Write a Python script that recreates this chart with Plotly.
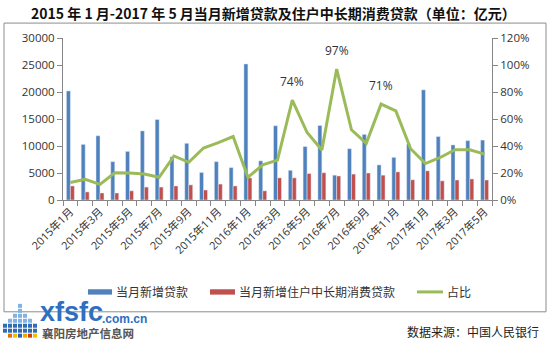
import plotly.graph_objects as go

months = ["2015年1月", "2015年2月", "2015年3月", "2015年4月", "2015年5月", "2015年6月",
          "2015年7月", "2015年8月", "2015年9月", "2015年10月", "2015年11月", "2015年12月",
          "2016年1月", "2016年2月", "2016年3月", "2016年4月", "2016年5月", "2016年6月",
          "2016年7月", "2016年8月", "2016年9月", "2016年10月", "2016年11月", "2016年12月",
          "2017年1月", "2017年2月", "2017年3月", "2017年4月", "2017年5月"]

new_loans = [20200, 10300, 11900, 7100, 9000, 12800, 14900, 8000, 10500, 5100, 7100, 6000,
             25200, 7250, 13750, 5500, 9900, 13800, 4600, 9500, 12150, 6500, 7900, 10400,
             20400, 11750, 10200, 11000, 11100]

household_loans = [2600, 1500, 1300, 1300, 1700, 2400, 2400, 2600, 2800, 1850, 2950, 2600,
                   4100, 1700, 4100, 4100, 4900, 5050, 4450, 4800, 5000, 4600, 5200, 3750,
                   5400, 3550, 3700, 3900, 3700]

ratio = [0.13, 0.153, 0.116, 0.202, 0.20, 0.193, 0.168, 0.326, 0.279, 0.385, 0.425, 0.47,
         0.168, 0.26, 0.295, 0.74, 0.50, 0.37, 0.97, 0.52, 0.42, 0.71, 0.66, 0.38,
         0.27, 0.315, 0.372, 0.372, 0.34]

labeled_idx = [15, 18, 21]

tick_text = [m if i % 2 == 0 else "" for i, m in enumerate(months)]

# plot-area geometry (pixels)
L, R, T, B = 63, 492, 37.5, 200.5
W, H = 550, 341


def px(x):
    return (x - L) / (R - L)


def py(y):
    return (B - y) / (B - T)


FONT = "Open Sans, Noto Sans CJK SC, sans-serif"
CJK = "Noto Sans CJK SC, sans-serif"
BLUE, RED, GREEN = "#4F81BD", "#C0504D", "#9BBB59"
AX = "#868686"

fig = go.Figure()
fig.add_trace(go.Bar(x=months, y=new_loans, name="当月新增贷款", marker_color=BLUE,
                     showlegend=False))
fig.add_trace(go.Bar(x=months, y=household_loans, name="当月新增住户中长期消费贷款",
                     marker_color=RED, showlegend=False))
fig.add_trace(go.Scatter(x=months, y=ratio, name="占比", mode="lines", yaxis="y2",
                         line=dict(color=GREEN, width=3), showlegend=False))

annotations = []
for i in labeled_idx:
    annotations.append(dict(x=months[i], y=ratio[i], xref="x", yref="y2",
                            text=f"{round(ratio[i] * 100)}%", showarrow=False,
                            yshift=19, font=dict(family=FONT, size=12, color="#333")))

# title
annotations.append(dict(x=px(273), y=py(12), xref="paper", yref="paper",
                        text="<b>2015 年 1 月-2017 年 5 月当月新增贷款及住户中长期消费贷款（单位：亿元）</b>",
                        showarrow=False, xanchor="center", yanchor="middle",
                        font=dict(family=CJK, size=14, color="#111")))

shapes = []
# chart border
shapes.append(dict(type="rect", xref="paper", yref="paper", x0=px(4), x1=px(546),
                   y0=py(313), y1=py(22.5), line=dict(color="#8c8c8c", width=1)))

# legend
leg_y = 293
legend_items = [("当月新增贷款", BLUE, 88, 112, "bar"),
                ("当月新增住户中长期消费贷款", RED, 210, 235, "bar"),
                ("占比", GREEN, 417, 443, "line")]
for text, col, x0, x1, kind in legend_items:
    if kind == "bar":
        shapes.append(dict(type="rect", xref="paper", yref="paper", x0=px(x0), x1=px(x1),
                           y0=py(leg_y + 2.7), y1=py(leg_y - 2.7), fillcolor=col,
                           line=dict(width=0)))
    else:
        shapes.append(dict(type="line", xref="paper", yref="paper", x0=px(x0), x1=px(x1),
                           y0=py(leg_y), y1=py(leg_y), line=dict(color=col, width=3)))
    annotations.append(dict(x=px(x1 + 2), y=py(leg_y), xref="paper", yref="paper", text=text,
                            showarrow=False, xanchor="left", yanchor="middle",
                            font=dict(family=CJK, size=12, color="#333")))

# logo (decorative)
logo_cols = [[1, 2], [0, 1, 2, 3], [0, 1, 2, 3, 4], [0, 1, 2, 3, 4, 5, 6], [0, 1, 2, 3, 4],
             [0, 1, 2, 3], [0, 1, 2]]
for c, rows in enumerate(logo_cols):
    for r in rows:
        x0 = 3 + c * 5
        y1 = 339 - r * 5
        if r == 0:
            col = ["#f0a800", "#e07000", "#f0c000", "#2a62b0", "#f0a800", "#d04000", "#f0c000"][c]
        elif r <= 2:
            col = "#2e6db4"
        else:
            col = "#7fb2e5"
        shapes.append(dict(type="rect", xref="paper", yref="paper", x0=px(x0), x1=px(x0 + 4),
                           y0=py(y1), y1=py(y1 - 4), fillcolor=col, line=dict(width=0)))
annotations.append(dict(x=px(38), y=py(313), xref="paper", yref="paper", text="<b>xfsfc</b>",
                        showarrow=False, xanchor="left", yanchor="middle",
                        font=dict(family="Liberation Sans", size=27, color="#2f6fc0")))
annotations.append(dict(x=px(100), y=py(320), xref="paper", yref="paper", text="<b>.com.cn</b>",
                        showarrow=False, xanchor="left", yanchor="middle",
                        font=dict(family="Liberation Sans", size=12, color="#2f6fc0")))
annotations.append(dict(x=px(40), y=py(334), xref="paper", yref="paper", text="<b>襄阳房地产信息网</b>",
                        showarrow=False, xanchor="left", yanchor="middle",
                        font=dict(family=CJK, size=11.5, color="#555")))
annotations.append(dict(x=px(541), y=py(333), xref="paper", yref="paper",
                        text="数据来源：中国人民银行", showarrow=False, xanchor="right",
                        yanchor="middle", font=dict(family=CJK, size=12, color="#222")))

fig.update_layout(
    width=W, height=H,
    margin=dict(l=L, r=W - R, t=T, b=H - B, pad=0),
    paper_bgcolor="white", plot_bgcolor="white",
    barmode="group", bargap=0.46, bargroupgap=0,
    font=dict(family=FONT, size=12, color="#333"),
    xaxis=dict(type="category", categoryorder="array", categoryarray=months,
               tickvals=months, ticktext=tick_text, tickson="boundaries",
               ticks="outside", ticklen=5, tickcolor=AX, tickangle=-45,
               showline=True, linecolor=AX, linewidth=1, showgrid=False,
               tickfont=dict(family=FONT, size=11, color="#333")),
    yaxis=dict(range=[0, 30000], dtick=5000, tickformat="d", showgrid=False, zeroline=False,
               showline=True, linecolor=AX, linewidth=1, ticks="outside", ticklen=5,
               tickcolor=AX, tickfont=dict(family=FONT, size=11.5, color="#333")),
    yaxis2=dict(range=[0, 1.2], dtick=0.2, tickformat=".0%", overlaying="y", side="right",
                showgrid=False, zeroline=False, showline=True, linecolor=AX, linewidth=1,
                ticks="outside", ticklen=5, tickcolor=AX,
                tickfont=dict(family=FONT, size=11.5, color="#333")),
    shapes=shapes, annotations=annotations,
)

fig.write_html("out.html")
